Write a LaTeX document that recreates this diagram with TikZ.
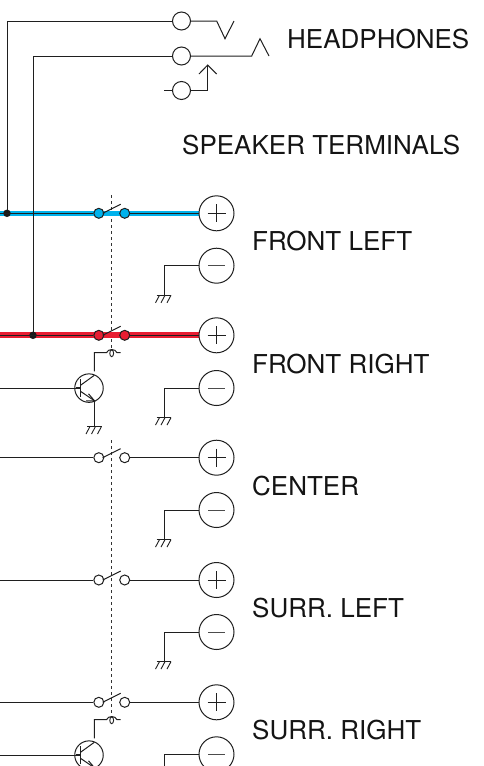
\documentclass[tikz,border=0pt]{standalone}
\usepackage{fontspec}
\setmainfont{TeX Gyre Heros}
\definecolor{teal1}{RGB}{0,178,236}
\definecolor{red1}{RGB}{232,30,50}
\tikzset{
 x=1pt,y=-1pt,
 wire/.style={line width=1pt,black!88},
 lab/.style={anchor=base west,font=\fontsize{26}{26}\selectfont,inner sep=0pt,text=black!92},
 term/.style={circle,draw=black!88,fill=white,line width=1pt,minimum size=35pt,inner sep=0pt},
 jack/.style={circle,draw=black!88,fill=white,line width=1pt,minimum size=18pt,inner sep=0pt},
 swc/.style={circle,draw=black!88,line width=1pt,minimum size=10pt,inner sep=0pt},
 dot/.style={circle,fill=black!90,minimum size=7.5pt,inner sep=0pt},
 dashline/.style={line width=1pt,black!80,dash pattern=on 3.3pt off 2.7pt},
}
\newcommand{\grnd}[2]{%
 \draw[wire] (#1-7.5,#2) -- (#1+7,#2);
 \foreach \k in {-4.5,1,7}{\draw[wire,line width=0.9pt] (#1+\k,#2) -- (#1+\k-4,#2+7.5);}
}
\newcommand{\minusterm}[2]{% name, y
 \node[term] (#1) at (216.5,#2) {};
 \draw[wire,black!70] (208,#2) -- (225,#2);
 \coordinate (#1c) at (164,#2);
 \coordinate (#1g) at (164,#2+29.6);
 \draw[wire] (#1.west) -- (#1c) -- (#1g);
 \grnd{164}{#2+29.6}
}
\newcommand{\relay}[2]{% name, y of switch
 \coordinate (#1c) at (94.3,#2+17.4);
 \draw[wire] (94.3,#2+36) -- (#1c) -- (106.5,#2+17.4) .. controls (108,#2+13.2) and (115.5,#2+13.2) .. (117,#2+17.4) -- (120.7,#2+17.4);
 \draw[line width=0.9pt,black!88] (111.7,#2+18) ellipse (1.9 and 3.4);
 \node[circle,draw=black!88,line width=1pt,minimum size=28.5pt,inner sep=0pt] (#1q) at (89,#2+52.8) {};
 \coordinate (#1b) at (80.5,#2+52.8);
 \draw[wire] (0,#2+52.8) -- (#1b);
 \draw[line width=1.5pt,black!88] (76,#2+52.8) -- (#1b);
 \draw[line width=1pt,black!88] (80.5,#2+44) -- (80.5,#2+62);
 \draw[wire] (80.5,#2+50) -- (94.3,#2+40);
 \draw[wire] (80.5,#2+56) -- (94.5,#2+65.5);
 \draw[wire] (88.5,#2+58.5) -- (94.5,#2+65.5) -- (86,#2+65.5);
}
\begin{document}
\begin{tikzpicture}
\useasboundingbox (0,0) rectangle (483,766);
% dashed links
\coordinate (dk1) at (111.7,195);
\coordinate (dk2) at (111.7,350);
\coordinate (dk3) at (111.7,440);
\coordinate (dk4) at (111.7,716);
\draw[dashline] (dk1) -- (dk2);
\draw[dashline] (dk3) -- (dk4);
% colour bands
\draw[line width=5.6pt,teal1] (0,213.3) -- (199,213.3);
\draw[line width=6pt,red1] (0,335.3) -- (199,335.3);
% jacks
\node[jack] (j1) at (181.5,21) {};
\node[jack] (j2) at (181.5,56) {};
\node[jack] (j3) at (181.5,90.5) {};
\coordinate (a1) at (7,213.3);
\coordinate (a2) at (33,335.3);
\draw[wire] (j1.west) -- (7,21) -- (a1);
\draw[wire] (j2.west) -- (33,56) -- (a2);
\draw[wire] (j1.east) -- (216.7,21) -- (225,38.7) -- (234,21);
\draw[wire] (j2.east) -- (251.7,56) -- (260,38.7) -- (269,56);
\draw[wire] (164,90.5) -- (j3.west);
\draw[wire] (j3.east) -- (207.7,90.5) -- (207.7,65);
\draw[wire] (199,74) -- (207.7,65) -- (216.7,74);
\node[dot] (d1) at (a1) {};
\node[dot] (d2) at (a2) {};
% rows
\foreach \n/\y/\c in {1/213.3/teal1,2/335.3/red1,3/457.7/white,4/580/white,5/702.3/white}{
  \node[swc,fill=\c] (sa\n) at (98.8,\y) {};
  \node[swc,fill=\c] (sb\n) at (124.7,\y) {};
  \node[term] (p\n) at (216.5,\y) {};
  \draw[wire] (0,\y) -- (sa\n.west);
  \draw[wire] (sb\n.east) -- (p\n.west);
  \draw[wire] (102.7,\y) -- (120.7,\y-9);
  \draw[wire] (207.5,\y) -- (225.5,\y) (216.5,\y-9) -- (216.5,\y+9);
}
\minusterm{m1}{265.7}
\minusterm{m2}{388}
\minusterm{m3}{510}
\minusterm{m4}{632}
\minusterm{m5}{754.3}
\relay{ra}{335.3}
\coordinate (rae) at (94.5,426.5);
\draw[wire] (94.5,401) -- (rae);
\grnd{94.5}{426.5}
\relay{rb}{702.3}
% labels
\node[lab] (t1) at (287,48) {HEADPHONES};
\node[lab] (t2) at (182,154) {SPEAKER TERMINALS};
\node[lab] (t3) at (252,250.5) {FRONT LEFT};
\node[lab] (t4) at (252,373) {FRONT RIGHT};
\node[lab] (t5) at (252,495) {CENTER};
\node[lab] (t6) at (252,617) {SURR. LEFT};
\node[lab] (t7) at (252,739.5) {SURR. RIGHT};
\end{tikzpicture}
\end{document}
